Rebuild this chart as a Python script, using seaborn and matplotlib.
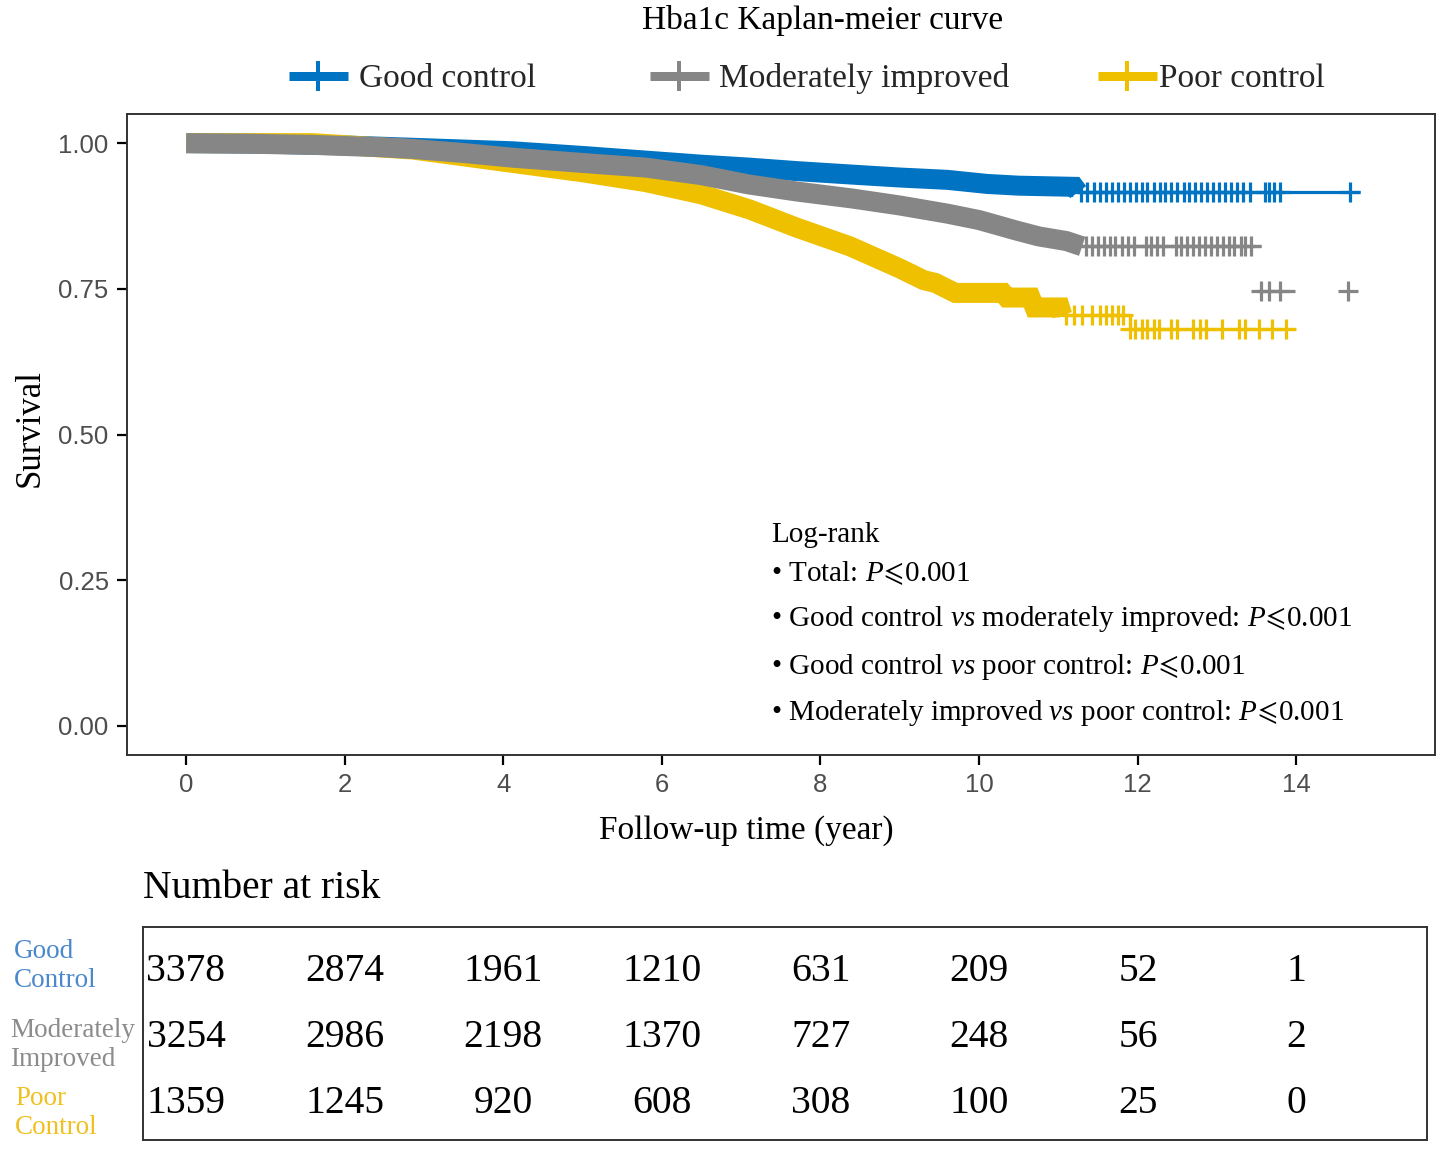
import numpy as np
import pandas as pd
import matplotlib
matplotlib.use("Agg")
import matplotlib.pyplot as plt
from matplotlib.lines import Line2D
import seaborn as sns

# ---------------- data ----------------
groups = ["Good control", "Moderately improved", "Poor control"]
colors = ["#0073C2", "#868686", "#EFC000"]
label_colors = ["#4A88CC", "#8C8C8C", "#F0C020"]

# Kaplan-Meier step knots (time in years, survival)
good_t = [0.0, 1.0, 2.0, 2.86, 3.5, 4.12, 5.0, 5.8, 6.5, 7.1, 7.7, 8.4, 9.0, 9.6, 10.1, 10.5, 11.2, 11.25, 14.8]
good_s = [1.0, 0.999, 0.996, 0.992, 0.989, 0.986, 0.978, 0.970, 0.963, 0.958, 0.952, 0.946, 0.941, 0.937, 0.930, 0.927, 0.925, 0.916, 0.916]
mod_t = [0.0, 0.77, 1.6, 2.45, 2.86, 3.5, 4.12, 5.0, 5.8, 6.5, 7.1, 7.7, 8.4, 9.0, 9.6, 10.0, 10.47, 10.75, 11.1, 11.3, 13.56]
mod_s = [1.0, 0.999, 0.997, 0.993, 0.990, 0.983, 0.975, 0.966, 0.958, 0.945, 0.929, 0.917, 0.905, 0.893, 0.879, 0.868, 0.850, 0.840, 0.832, 0.823, 0.823]
mod2_t = [13.50, 13.98]
mod2_s = [0.747, 0.747]
poor_t = [0.0, 1.6, 2.86, 4.12, 5.0, 5.8, 6.5, 7.11, 7.7, 8.37, 9.0, 9.3, 9.45, 9.7, 10.3, 10.35, 10.65,
          10.7, 11.02, 11.05, 11.85, 11.9, 13.98]
poor_s = [1.0, 1.0, 0.989, 0.966, 0.950, 0.933, 0.912, 0.886, 0.855, 0.823, 0.785, 0.765, 0.760, 0.743, 0.743,
          0.735, 0.735, 0.718, 0.718, 0.705, 0.705, 0.681, 0.681]

# end of the densely censored part of each curve
band_end = [11.25, 11.3, 11.05]

# sparse censoring times after the dense part
good_cens = [11.28, 11.36, 11.45, 11.52, 11.6, 11.68, 11.75, 11.83, 11.9, 11.98, 12.05, 12.12,
             12.2, 12.28, 12.35, 12.42, 12.5, 12.58, 12.65, 12.72, 12.8, 12.88, 12.95, 13.02,
             13.1, 13.18, 13.25, 13.33, 13.42, 13.6, 13.66, 13.72, 13.8, 14.68]
mod_cens = [11.35, 11.42, 11.5, 11.58, 11.65, 11.72, 11.8, 11.88, 11.95, 12.1, 12.17, 12.25,
            12.32, 12.48, 12.55, 12.62, 12.7, 12.77, 12.85, 12.92, 13.0, 13.08, 13.15, 13.22,
            13.3, 13.36, 13.43]
mod2_cens = [13.56, 13.66, 13.8, 14.65]
mod2_cens_s = [0.747, 0.747, 0.747, 0.747]
poor_cens = [11.1, 11.2, 11.3, 11.43, 11.52, 11.6, 11.68, 11.75, 11.81, 11.9, 11.97, 12.05, 12.12,
             12.2, 12.27, 12.42, 12.5, 12.7, 12.78, 12.86, 13.06, 13.28, 13.36, 13.53, 13.7, 13.87]

risk_times = [0, 2, 4, 6, 8, 10, 12, 14]
risk_good = [3378, 2874, 1961, 1210, 631, 209, 52, 1]
risk_mod = [3254, 2986, 2198, 1370, 727, 248, 56, 2]
risk_poor = [1359, 1245, 920, 608, 308, 100, 25, 0]
risk_labels = ["Good\nControl", "Moderately\nImproved", "Poor\nControl"]

title = "Hba1c Kaplan-meier curve"
LE = "$\\it{P}\\!{\\leqslant}\\!$0.001"
logrank_lines = ["Log-rank",
                 "• Total: " + LE,
                 "• Good control $\\it{vs}$ moderately improved: " + LE,
                 "• Good control $\\it{vs}$ poor control: " + LE,
                 "• Moderately improved $\\it{vs}$ poor control: " + LE]

# ---------------- style ----------------
sns.set_theme(style="ticks")
SERIF = ["Liberation Serif", "DejaVu Serif", "DejaVu Sans"]
SANS = ["Liberation Sans", "DejaVu Sans"]
plt.rcParams["font.family"] = SERIF
plt.rcParams["mathtext.fontset"] = "custom"
plt.rcParams["mathtext.rm"] = "Liberation Serif"
plt.rcParams["mathtext.it"] = "Liberation Serif:italic"
plt.rcParams["mathtext.fallback"] = "stix"

W, H = 1451, 1166
fig = plt.figure(figsize=(W / 100, H / 100), dpi=100)


def fx(x):
    return x / W


def fy(y):
    return 1 - y / H


ax = fig.add_axes([fx(126.7), fy(755), (1435 - 126.7) / W, (755 - 114) / H])

PT = 0.72  # points per pixel at dpi 100


def step_value(times, surv, t):
    idx = np.searchsorted(np.asarray(times), np.asarray(t), side="right") - 1
    return np.asarray(surv)[idx]


curves = [(good_t, good_s, good_cens), (mod_t, mod_s, mod_cens), (poor_t, poor_s, poor_cens)]
zorders = [2, 4, 3]
for i, (tt, ss, cens) in enumerate(curves):
    col = colors[i]
    df = pd.DataFrame({"time": tt, "surv": ss})
    band = df[df["time"] <= band_end[i]]
    tail = df[df["time"] >= band["time"].max()]
    # dense censoring band
    sns.lineplot(data=band, x="time", y="surv", ax=ax, color=col, lw=20 * PT,
                 estimator=None, sort=False,
                 solid_capstyle="butt", solid_joinstyle="miter", zorder=zorders[i])
    # the survival step line after the dense part
    sns.lineplot(data=tail, x="time", y="surv", ax=ax, color=col, lw=3.2 * PT,
                 drawstyle="steps-post", estimator=None, sort=False,
                 solid_capstyle="butt", zorder=zorders[i])
    cdf = pd.DataFrame({"time": cens, "surv": step_value(tt, ss, cens)})
    sns.scatterplot(data=cdf, x="time", y="surv", ax=ax, color=col, marker="+",
                    s=(20 * PT) ** 2, linewidth=3.2 * PT, zorder=zorders[i])

# detached tail of the moderately improved group
m2 = pd.DataFrame({"time": mod2_t, "surv": mod2_s})
sns.lineplot(data=m2, x="time", y="surv", ax=ax, color=colors[1], lw=3.2 * PT,
             estimator=None, sort=False, solid_capstyle="butt", zorder=4)
m2c = pd.DataFrame({"time": mod2_cens, "surv": mod2_cens_s})
sns.scatterplot(data=m2c, x="time", y="surv", ax=ax, color=colors[1], marker="+",
                s=(20 * PT) ** 2, linewidth=3.2 * PT, zorder=4)

ax.set_xlim(-0.75, 15.75)
ax.set_ylim(-0.05, 1.05)
ax.set_xticks([0, 2, 4, 6, 8, 10, 12, 14])
ax.set_yticks([0, 0.25, 0.5, 0.75, 1.0])
ax.set_yticklabels(["0.00", "0.25", "0.50", "0.75", "1.00"])
for lab in ax.get_xticklabels() + ax.get_yticklabels():
    lab.set_family(SANS)
    lab.set_fontsize(18.5)
    lab.set_color("#4D4D4D")
ax.tick_params(axis="both", length=7, width=1.6, color="black", pad=6)
for sp in ax.spines.values():
    sp.set_visible(True)
    sp.set_color("#333333")
    sp.set_linewidth(1.4)

ax.set_xlabel("Follow-up time (year)", fontsize=24, color="black")
ax.set_ylabel("Survival", fontsize=25, color="black")
ax.xaxis.set_label_coords((746 - 126.7) / 1308.3, -(831 - 755) / 641)
ax.xaxis.label.set_va("center")
ax.yaxis.set_label_coords((30 - 126.7) / 1308.3, (755 - 428) / 641)
ax.yaxis.label.set_va("center")
ax.yaxis.label.set_ha("center")

fig.text(fx(823), fy(20), title, ha="center", va="center", fontsize=24, color="black")

# legend: one entry per group, placed like the original layout
leg_x = [289, 650, 1098]
leg_pad = [0.33, 0.3, 0.06]
for i, (g, c) in enumerate(zip(groups, colors)):
    h = Line2D([], [], color=c, lw=9 * PT, marker="+", markersize=30 * PT,
               markeredgewidth=4 * PT, solid_capstyle="butt")
    leg = fig.legend([h], [g], loc="center left", bbox_to_anchor=(fx(leg_x[i]), fy(79)),
                     frameon=False, fontsize=24, handlelength=1.76,
                     handletextpad=leg_pad[i], borderpad=0, borderaxespad=0)

# log-rank annotations
lr_y = [535.5, 573.5, 619.5, 666.5, 713.5]
for txt, yy in zip(logrank_lines, lr_y):
    fig.text(fx(771), fy(yy), txt, ha="left", va="center", fontsize=21, color="black")

# ---------------- risk table ----------------
fig.text(fx(143), fy(888), "Number at risk", ha="left", va="center", fontsize=28.5, color="black")
tab = fig.add_axes([fx(143), fy(1140), (1427 - 143) / W, (1140 - 927) / H])
tab.set_xlim(-0.542, 15.644)
tab.set_ylim(2.545, -0.665)
risk_df = pd.DataFrame({"time": risk_times * 3,
                        "row": [0] * 8 + [1] * 8 + [2] * 8,
                        "n": risk_good + risk_mod + risk_poor})
for _, r in risk_df.iterrows():
    tab.text(r["time"], r["row"], str(int(r["n"])), ha="center", va="center",
             fontsize=28.5, color="black")
tab.set_xticks([])
tab.set_yticks([])
for sp in tab.spines.values():
    sp.set_visible(True)
    sp.set_color("#333333")
    sp.set_linewidth(1.4)

label_pos = [(14, 966), (10, 1045), (15, 1113)]
for lab, (xx, yy), c in zip(risk_labels, label_pos, label_colors):
    fig.text(fx(xx), fy(yy), lab, ha="left", va="center", fontsize=19.5, color=c,
             linespacing=1.2)

fig.savefig("out.png", dpi=100)
